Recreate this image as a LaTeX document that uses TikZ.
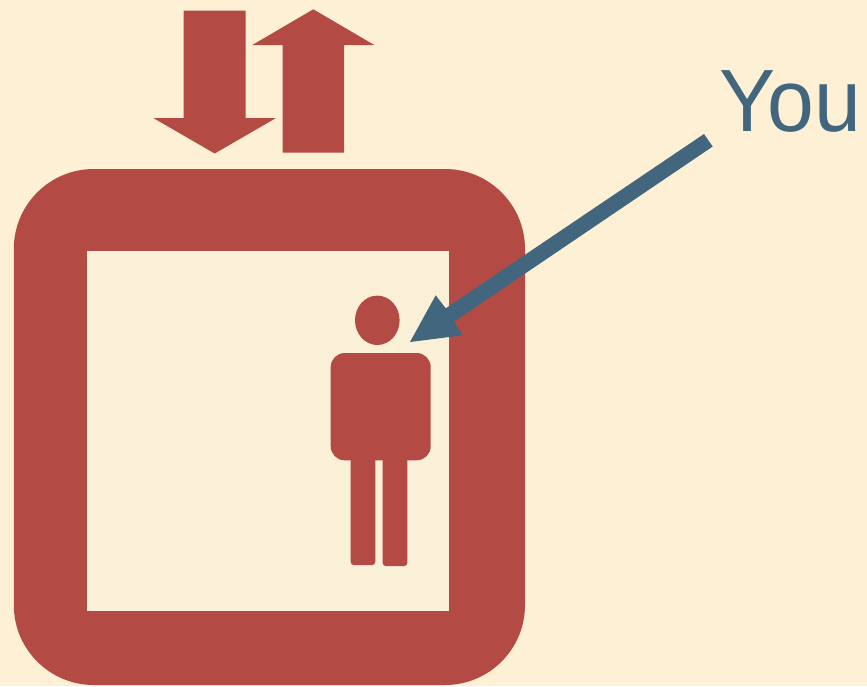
\documentclass[tikz,border=0pt]{standalone}
\usepackage{fontspec}
\setmainfont{Liberation Sans}
\newfontfamily\youfont[FakeStretch=0.95]{Liberation Sans}
\definecolor{bgc}{HTML}{FDF0D5}
\definecolor{innerc}{HTML}{FAF0D7}
\definecolor{redc}{HTML}{B34A43}
\definecolor{bluec}{HTML}{43667F}
\tikzset{redshape/.style={fill=redc,draw=none},blueshape/.style={fill=bluec,draw=none}}
\begin{document}
\begin{tikzpicture}[x=1pt,y=-1pt]
\fill[bgc] (0,0) rectangle (867,686);
\useasboundingbox (0,0) rectangle (867,686);
% cabin
\fill[redshape,rounded corners=80pt] (13.8,169) rectangle (525,685);
\fill[innerc] (87,250.5) rectangle (449,611);
% travel arrows
\fill[redshape] (183.7,10.7) -- (245.7,10.7) -- (245.7,118) -- (276,118) -- (214.7,153.5) -- (153.3,118) -- (183.7,118) -- cycle;
\fill[redshape] (282.7,152.7) -- (344,152.7) -- (344,45) -- (374.3,45) -- (313.3,9.3) -- (252.3,45) -- (282.7,45) -- cycle;
% person
\fill[redshape] (377.3,320.3) ellipse [x radius=22.3, y radius=24.7];
\fill[redshape,rounded corners=14pt] (330.7,353) rectangle (430.7,460.3);
\fill[redshape,rounded corners=3pt] (350.7,450) rectangle (375.3,565);
\fill[redshape,rounded corners=3pt] (382.7,450) rectangle (407.3,566);
% pointer
\fill[blueshape] (704,134) -- (712.7,146.5) -- (454,321.7) -- (462.7,335.3) -- (410,342) -- (435.7,295.3) -- (445.7,308.3) -- cycle;
\node[anchor=base west,inner sep=0pt,text=bluec,font=\youfont\fontsize{88.5}{92}\selectfont] (you) at (718.8,131.6) {You};
\end{tikzpicture}
\end{document}
